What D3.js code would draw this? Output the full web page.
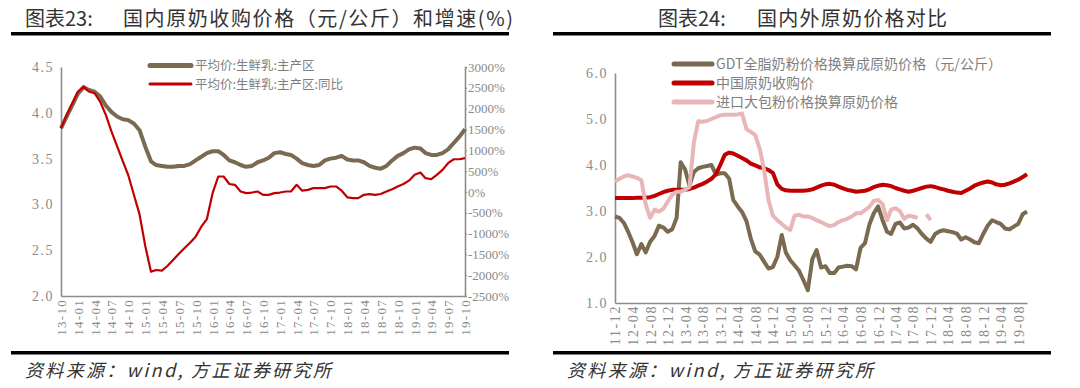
<!DOCTYPE html>
<html><head><meta charset="utf-8">
<script src="https://cdn.jsdelivr.net/npm/d3@7/dist/d3.min.js"></script>
<style>
body{margin:0;background:#fff;}
svg{display:block;}
</style></head><body>
<svg id="c" width="1080" height="388"></svg>
<script>
// ---------- Left chart data (monthly, 13-10 .. 19-10) ----------
const leftStart = "13-10";
const leftTickLabels = ["13-10","14-01","14-04","14-07","14-10","15-01","15-04","15-07","15-10","16-01","16-04","16-07","16-10","17-01","17-04","17-07","17-10","18-01","18-04","18-07","18-10","19-01","19-04","19-07","19-10"];
const leftPrice = [3.83,3.96,4.08,4.21,4.28,4.25,4.23,4.18,4.08,4.01,
  3.96,3.93,3.92,3.88,3.81,3.63,3.47,3.43,3.42,3.41,
  3.41,3.42,3.42,3.44,3.48,3.52,3.56,3.58,3.58,3.54,
  3.48,3.46,3.43,3.41,3.42,3.46,3.48,3.51,3.56,3.57,
  3.55,3.54,3.50,3.45,3.43,3.42,3.43,3.48,3.50,3.51,
  3.53,3.49,3.48,3.48,3.46,3.42,3.40,3.39,3.42,3.48,
  3.53,3.56,3.60,3.62,3.61,3.56,3.54,3.54,3.56,3.60,
  3.67,3.74,3.82];
const leftYoY = [1530,1850,2130,2410,2530,2410,2370,2170,1850,1460,
  1100,740,400,-80,-540,-1300,-1915,-1875,-1890,-1780,
  -1635,-1490,-1355,-1220,-1075,-835,-655,-30,370,370,
  190,170,10,-30,-15,10,-70,-70,-30,-15,
  10,10,170,30,50,90,90,90,130,130,
  30,-130,-150,-150,-70,-55,-70,-50,10,65,
  130,190,270,410,465,330,305,410,530,690,
  785,785,810];
const leftLeftTicks = [2.0,2.5,3.0,3.5,4.0,4.5];
const leftRightTicks = [-2500,-2000,-1500,-1000,-500,0,500,1000,1500,2000,2500,3000];
const leftLegend = ["平均价:生鲜乳:主产区","平均价:生鲜乳:主产区:同比"];

// ---------- Right chart data (monthly, 11-12 .. 19-10) ----------
const rightStart = "11-12";
const rightTickLabels = ["11-12","12-04","12-08","12-12","13-04","13-08","13-12","14-04","14-08","14-12","15-04","15-08","15-12","16-04","16-08","16-12","17-04","17-08","17-12","18-04","18-08","18-12","19-04","19-08"];
const gdtPrice = [2.88,2.85,2.74,2.55,2.32,2.06,2.28,2.10,2.33,2.46,
  2.68,2.64,2.55,2.60,2.85,4.06,3.90,3.55,3.85,3.93,
  3.96,3.98,4.00,3.79,3.82,3.82,3.70,3.24,3.10,2.98,
  2.78,2.40,2.12,2.05,1.90,1.75,1.78,2.00,2.48,2.10,
  1.93,1.82,1.70,1.50,1.28,1.95,2.15,1.77,1.80,1.65,
  1.65,1.77,1.79,1.81,1.80,1.73,2.20,2.30,2.70,2.95,
  3.10,2.80,2.55,2.50,2.72,2.75,2.62,2.64,2.70,2.62,
  2.50,2.40,2.33,2.50,2.56,2.58,2.56,2.54,2.51,2.38,
  2.43,2.38,2.32,2.30,2.50,2.68,2.80,2.76,2.72,2.62,
  2.60,2.66,2.72,2.93,2.99];
const cnPrice = [3.28,3.28,3.28,3.28,3.28,3.29,3.29,3.29,3.30,3.33,
  3.37,3.41,3.44,3.46,3.46,3.46,3.46,3.48,3.51,3.55,
  3.59,3.64,3.70,3.80,4.00,4.22,4.27,4.25,4.20,4.15,
  4.10,4.03,3.99,3.95,3.93,3.89,3.83,3.58,3.48,3.45,
  3.44,3.44,3.44,3.44,3.45,3.47,3.51,3.55,3.58,3.59,
  3.57,3.53,3.49,3.46,3.44,3.42,3.43,3.44,3.47,3.52,
  3.55,3.57,3.56,3.54,3.50,3.47,3.44,3.42,3.44,3.47,
  3.50,3.53,3.54,3.52,3.49,3.47,3.44,3.42,3.40,3.39,
  3.44,3.49,3.55,3.59,3.62,3.64,3.62,3.58,3.56,3.57,
  3.60,3.64,3.68,3.74,3.80];
const importPrice = [3.64,3.70,3.75,3.78,3.75,3.72,3.67,3.15,2.85,3.03,
  2.99,3.05,3.20,3.35,3.42,3.42,3.46,3.52,4.50,4.95,
  4.94,4.96,5.00,5.04,5.08,5.09,5.09,5.09,5.10,5.12,
  4.78,4.72,4.65,4.35,3.90,3.24,2.90,2.80,2.72,2.64,
  2.59,2.90,2.92,2.88,2.88,2.85,2.80,2.76,2.71,2.67,
  2.70,2.76,2.80,2.83,2.88,2.95,2.95,3.02,3.09,3.22,
  3.24,3.15,2.80,3.03,3.06,3.00,2.83,2.90,2.88,2.85,
  null,2.93,2.80];
const rightYTicks = [1.0,2.0,3.0,4.0,5.0,6.0];
const rightLegend = ["GDT全脂奶粉价格换算成原奶价格（元/公斤）","中国原奶收购价","进口大包粉价格换算原奶价格"];

// ---------- styles ----------
const C_BROWN = "#7a6a50", C_RED = "#c00000", C_PINK = "#e9b6b8";
const AXIS = "#8c8c8c", LABEL = "#8a8a8a";
const TICKFONT = "'Liberation Serif', serif";
const CJK = "'Noto Sans CJK SC', sans-serif";

const svg = d3.select("#c");
const parse = d3.timeParse("%y-%m");
const fmt = d3.timeFormat("%y-%m");
const monthsFrom = (start, n) => d3.range(n).map(i => d3.timeMonth.offset(parse(start), i));

function frame(x0, x1, titleA, titleB, aX, bX, bW, srcX) {
  svg.append("text").attr("x", aX).attr("y", 26).attr("font-family", CJK).attr("font-size", 20)
    .attr("fill", "#333").text(titleA);
  svg.append("text").attr("x", bX).attr("y", 26).attr("font-family", CJK).attr("font-size", 20)
    .attr("fill", "#333").attr("textLength", bW).attr("lengthAdjust", "spacing").text(titleB);
  svg.append("rect").attr("x", x0).attr("y", 32).attr("width", x1 - x0).attr("height", 3.5).attr("fill", "#000");
  svg.append("rect").attr("x", x0).attr("y", 351).attr("width", x1 - x0).attr("height", 3.5).attr("fill", "#000");
  svg.append("text").attr("x", srcX).attr("y", 377).attr("font-family", CJK).attr("font-size", 18)
    .attr("font-style", "italic").attr("fill", "#333").attr("textLength", 306).attr("lengthAdjust", "spacing")
    .text("资料来源：wind, 方正证券研究所");
}

function styleAxis(g, fs) {
  g.select(".domain").attr("stroke", AXIS).attr("stroke-width", 1.6);
  g.selectAll(".tick line").attr("stroke", AXIS);
  g.selectAll(".tick text").attr("fill", LABEL).attr("font-family", TICKFONT).attr("font-size", fs);
}

// ================= LEFT CHART =================
frame(11, 509, "图表23:", "国内原奶收购价格（元/公斤）和增速(%)", 25, 123, 390, 25);
{
  const dates = monthsFrom(leftStart, leftPrice.length);
  const x = d3.scaleTime().domain([parse(leftTickLabels[0]), parse(leftTickLabels[leftTickLabels.length - 1])]).range([61, 465]);
  const yL = d3.scaleLinear().domain([2.0, 4.5]).range([296, 67]);
  const yR = d3.scaleLinear().domain([-2500, 3000]).range([296, 67]);

  const gx = svg.append("g").attr("transform", "translate(0,296)")
    .call(d3.axisBottom(x).tickValues(leftTickLabels.map(parse)).tickFormat(fmt).tickSize(0));
  styleAxis(gx, 13);
  gx.selectAll(".tick text").attr("transform", "rotate(-90)").attr("text-anchor", "end")
    .attr("x", -3).attr("y", 0).attr("dy", "0.35em").attr("letter-spacing", 1.3);

  const gl = svg.append("g").attr("transform", "translate(61,0)")
    .call(d3.axisLeft(yL).tickValues(leftLeftTicks).tickFormat(d3.format(".1f")).tickSize(0).tickPadding(7));
  styleAxis(gl, 14);
  gl.selectAll(".tick text").attr("letter-spacing", 1.5);

  const gr = svg.append("g").attr("transform", "translate(465,0)")
    .call(d3.axisRight(yR).tickValues(leftRightTicks).tickFormat(d => d + "%").tickSize(2).tickPadding(1));
  styleAxis(gr, 13);

  const lineP = d3.line().x((d, i) => x(dates[i])).y(d => yL(d));
  const lineY = d3.line().x((d, i) => x(dates[i])).y(d => yR(d));
  svg.append("path").datum(leftPrice).attr("d", lineP).attr("fill", "none")
    .attr("stroke", C_BROWN).attr("stroke-width", 4).attr("stroke-linejoin", "round");
  svg.append("path").datum(leftYoY).attr("d", lineY).attr("fill", "none")
    .attr("stroke", C_RED).attr("stroke-width", 2.2).attr("stroke-linejoin", "round");

  const leg = [[C_BROWN, 5], [C_RED, 3]];
  leftLegend.forEach((t, i) => {
    const y = 65.5 + i * 18.5;
    svg.append("line").attr("x1", 150).attr("x2", 191).attr("y1", y).attr("y2", y)
      .attr("stroke", leg[i][0]).attr("stroke-width", leg[i][1]).attr("stroke-linecap", "round");
    svg.append("text").attr("x", 195).attr("y", y + 4.5).attr("font-family", CJK).attr("font-size", 12.5)
      .attr("fill", "#7f7f7f").text(t);
  });
}

// ================= RIGHT CHART =================
frame(553, 1051, "图表24:", "国内外原奶价格对比", 658, 757, 190, 567);
{
  const n = cnPrice.length;
  const dates = monthsFrom(rightStart, n);
  const x = d3.scaleTime().domain([dates[0], dates[n - 1]]).range([615, 1027]);
  const y = d3.scaleLinear().domain([1.0, 6.0]).range([303, 73]);

  const gx = svg.append("g").attr("transform", "translate(0,303)")
    .call(d3.axisBottom(x).tickValues(rightTickLabels.map(parse)).tickFormat(fmt).tickSize(0));
  styleAxis(gx, 14);
  gx.selectAll(".tick text").attr("transform", "rotate(-90)").attr("text-anchor", "end")
    .attr("x", -2).attr("y", 0).attr("dy", "0.35em").attr("letter-spacing", 1.6);

  const gl = svg.append("g").attr("transform", "translate(615,0)")
    .call(d3.axisLeft(y).tickValues(rightYTicks).tickFormat(d3.format(".1f")).tickSize(0).tickPadding(7));
  styleAxis(gl, 14);
  gl.selectAll(".tick text").attr("letter-spacing", 1.5);

  const line = d3.line().defined(d => d != null).x((d, i) => x(dates[i])).y(d => y(d));
  const series = [[gdtPrice, C_BROWN], [cnPrice, C_RED], [importPrice, C_PINK]];
  series.forEach(([arr, col]) => {
    svg.append("path").datum(arr).attr("d", line).attr("fill", "none")
      .attr("stroke", col).attr("stroke-width", 4).attr("stroke-linejoin", "round");
  });

  rightLegend.forEach((t, i) => {
    const yy = 64 + i * 19;
    svg.append("line").attr("x1", 674).attr("x2", 712).attr("y1", yy).attr("y2", yy)
      .attr("stroke", series[i][1]).attr("stroke-width", 5).attr("stroke-linecap", "round");
    const tx = svg.append("text").attr("x", 716).attr("y", yy + 5).attr("font-family", CJK).attr("font-size", 14)
      .attr("fill", "#7f7f7f").text(t);
    if (i === 0) tx.attr("textLength", 286).attr("lengthAdjust", "spacing");
  });
}
</script>
</body></html>
